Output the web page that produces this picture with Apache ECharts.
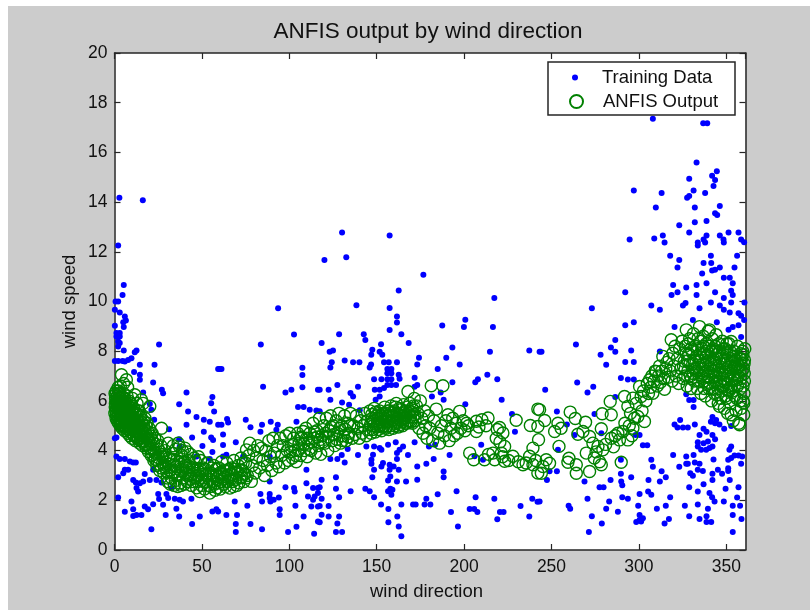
<!DOCTYPE html>
<html>
<head>
<meta charset="utf-8">
<title>ANFIS output by wind direction</title>
<script src="https://cdn.jsdelivr.net/npm/echarts@6/dist/echarts.min.js"></script>
<style>
  html, body { margin: 0; padding: 0; background: #fff; }
  #chart { width: 810px; height: 610px; }
</style>
</head>
<body>
<div id="chart"></div>
<script>
// [wind direction, wind speed], one list per stretch of the x axis
const trainingLow = [
  [0.6,10.0],[2.1,10.0],[0.2,9.67],[3.0,9.56],[5.9,9.4],[6.5,9.24],[5.0,9.16],[5.3,8.97],[0.2,9.02],[1.1,8.73],[3.0,8.73],[1.1,8.59],[3.0,8.59],[2.1,8.39],[3.0,8.33],[2.1,8.19],[5.3,8.03],[25.5,8.27],[93.6,9.73],[102.7,8.67],[83.7,8.27],[12.6,8.03],[11.6,7.96],[9.7,7.72],[7.8,7.65],[5.9,7.59],[0.2,7.61],[2.1,7.61],[4.6,7.61],[14.5,7.45],[22.9,7.45],[11.2,7.16],[14.5,7.05],[14.5,6.85],[22.1,6.74],[59.3,7.28],[60.2,7.28],[61.2,7.28],[107.5,7.33],[107.5,7.04],[107.5,6.55],[85.0,6.57],[27.1,6.45],[27.8,6.31],[41.2,6.34],[16.4,6.34],[97.8,6.34],[101.2,6.45],[116.4,6.45],[56.0,6.16],[55.3,5.91],[37.0,5.87],[57.0,5.57],[42.1,5.57],[105.0,5.75],[108.2,5.75],[111.7,5.64],[115.5,5.61],[20.2,5.88],[21.1,5.64],[46.9,5.35],[51.1,5.24],[54.5,5.16],[41.2,5.04],[59.3,5.04],[61.2,5.04],[64.4,5.27],[65.0,5.13],[75.1,5.24],[84.4,5.04],[89.4,5.16],[93.4,5.04],[77.8,4.94],[104.1,5.16],[22.7,5.24],[31.2,4.86],[51.1,4.76],[83.5,4.76],[92.6,4.84],[44.4,4.53],[55.3,4.53],[56.4,4.43],[62.1,4.65],[37.0,4.46],[1.1,4.53],[0.2,4.5],[62.1,4.23],[69.4,4.34],[50.3,4.19],[37.3,4.17],[56.0,3.94],[46.9,3.76],[54.5,3.66],[64.0,3.83],[62.1,3.76],[73.6,3.76],[88.8,3.76],[109.8,3.23],[1.1,3.76],[3.0,3.66],[5.9,3.66],[8.8,3.56],[10.7,3.52],[12.2,3.52],[5.9,3.23],[5.0,3.09],[7.8,3.23],[17.3,3.06],[2.1,2.93],[22.1,3.23],[10.7,2.82],[12.2,2.72],[16.4,2.76],[14.5,2.69],[12.6,2.49],[13.5,2.35],[20.2,2.82],[24.0,2.82],[26.9,2.72],[32.6,2.49],[109.8,2.69],[113.6,2.49],[116.4,2.49],[88.8,2.76],[97.8,2.53],[102.7,2.49],[103.1,2.35],[110.7,2.15],[114.5,2.15],[116.4,2.29],[25.0,2.25],[25.5,2.05],[29.7,2.25],[30.7,2.09],[34.5,2.06],[37.3,2.02],[39.2,1.95],[44.0,2.06],[2.1,2.11],[9.7,1.95],[27.8,1.82],[35.4,1.66],[17.3,1.75],[19.2,1.64],[22.1,1.84],[10.7,1.64],[5.9,1.54],[10.7,1.37],[12.6,1.41],[15.4,1.41],[29.3,1.41],[37.0,1.35],[48.8,1.35],[56.0,1.55],[58.3,1.64],[59.3,1.55],[64.0,1.41],[68.8,1.95],[76.0,1.78],[70.1,1.41],[83.5,2.25],[84.4,1.95],[88.8,2.25],[89.2,1.95],[91.1,2.02],[94.0,2.11],[94.5,1.64],[94.5,1.41],[103.5,1.78],[108.2,1.35],[112.6,1.75],[113.6,2.02],[116.4,1.75],[116.4,1.15],[69.4,1.05],[77.8,1.05],[69.4,0.72],[84.4,0.84],[99.3,0.72],[104.1,0.94],[114.2,0.65],[21.1,0.84],[44.4,1.05],[88.8,2.09],
  [2.8,14.18],[16.2,14.07],[2.1,12.25],[5.3,10.66],[4.6,10.26]
];
const trainingMid = [
  [130.2,12.78],[157.4,12.66],[120.1,11.67],[132.6,11.78],[176.7,11.08],[162.6,10.44],[217.3,10.14],[138.4,9.85],[157.4,9.74],[161.6,9.4],[161.6,9.15],[157.4,8.85],[187.5,9.03],[200.7,9.27],[199.9,8.97],[216.5,8.97],[128.5,8.68],[142.6,8.68],[143.5,8.45],[164.1,8.68],[118.5,8.33],[168.3,8.33],[152.5,8.28],[147.5,8.06],[123.1,7.98],[125.0,8.03],[151.7,7.98],[153.2,7.86],[146.9,7.86],[193.3,8.15],[189.8,7.74],[174.2,7.74],[214.8,7.98],[237.3,8.03],[243.2,7.98],[124.3,7.56],[131.7,7.63],[136.5,7.56],[140.1,7.56],[154.2,7.56],[156.9,7.56],[161.6,7.56],[173.2,7.46],[197.5,7.46],[146.8,7.46],[146.0,7.34],[123.5,7.34],[184.9,7.28],[156.1,7.28],[158.4,7.28],[156.1,7.11],[158.4,7.11],[162.6,7.05],[213.3,7.05],[171.7,6.93],[163.1,6.89],[148.5,6.87],[152.7,6.87],[156.1,6.87],[158.4,6.87],[219.0,6.87],[207.9,6.87],[206.4,6.75],[193.3,6.75],[127.5,6.64],[139.3,6.57],[173.2,6.64],[171.7,6.57],[161.1,6.64],[156.1,6.64],[158.4,6.64],[154.2,6.52],[148.9,6.45],[151.7,6.45],[122.5,6.45],[117.4,6.45],[135.0,6.32],[136.5,6.18],[149.4,6.05],[151.7,6.18],[123.5,6.05],[130.2,5.94],[134.2,5.85],[188.3,6.05],[181.6,6.18],[186.6,6.34],[221.5,6.05],[200.7,5.87],[140.3,5.62],[227.4,5.47],[229.1,4.76],[117.4,5.58],
  [171.7,4.34],[160.9,4.34],[144.1,4.17],[148.5,4.17],[151.7,4.1],[156.5,4.24],[179.9,4.17],[183.4,4.24],[133.4,4.06],[165.1,4.17],[163.1,4.03],[161.6,3.9],[147.9,3.83],[152.7,4.03],[139.3,3.82],[167.9,3.82],[191.7,3.82],[209.8,4.24],[206.0,3.77],[210.8,3.63],[127.5,3.66],[123.5,3.66],[130.0,3.82],[131.7,3.52],[147.0,3.63],[161.6,3.66],[182.6,3.66],[178.4,3.47],[173.2,3.36],[147.0,3.47],[153.6,3.5],[152.7,3.36],[157.4,3.43],[157.4,3.23],[159.7,3.36],[162.6,3.23],[148.5,3.23],[188.3,3.16],[188.3,2.93],[147.5,2.93],[126.7,2.93],[157.8,2.96],[156.5,2.8],[161.6,2.76],[166.8,2.76],[173.2,2.83],[118.5,2.83],[117.4,2.53],[126.7,2.46],[135.1,2.36],[143.5,2.46],[146.0,2.36],[157.8,2.46],[156.5,2.36],[159.0,2.42],[158.4,2.22],[184.9,2.24],[195.7,2.36],[128.5,2.12],[148.5,2.12],[178.4,2.06],[206.6,2.12],[217.3,2.06],[239.0,2.06],[242.0,1.94],[232.3,1.77],[118.5,2.06],[117.4,1.77],[122.5,1.77],[152.5,1.83],[164.1,1.83],[170.8,1.83],[172.3,1.83],[177.4,1.83],[180.7,1.83],[156.7,1.65],[203.2,1.65],[205.8,1.65],[207.6,1.53],[192.5,1.53],[220.5,1.53],[222.6,1.53],[118.5,1.42],[122.5,1.35],[128.5,1.35],[161.8,1.35],[237.3,1.35],[219.0,1.24],[117.4,1.12],[127.5,1.07],[156.7,1.12],[162.6,0.95],[196.5,0.95],[126.7,0.72],[130.2,0.72],[164.1,0.55]
];
const trainingHigh = [
  [308,17.35],[336.8,17.17],[339.1,17.17],[333,15.59],[344.6,15.24],[328.8,14.94],[341.9,15.06],[343.6,14.89],[342.7,14.65],[297.1,14.47],[331.3,14.47],[313,14.37],[337.9,14.37],[328.8,14.25],[327.6,14.18],[346.3,13.84],[309.7,13.78],[332,13.78],[343.6,13.55],[344.8,13.48],[323.1,13.07],[332,13.19],[338.7,13.24],[328.8,12.78],[351.3,12.78],[357,12.78],[346.3,12.66],[338.7,12.66],[313.7,12.66],[294.7,12.49],[308.8,12.54],[314.7,12.37],[337,12.49],[333.7,12.37],[333.7,12.25],[337.9,12.37],[348.4,12.49],[348.6,12.37],[358.5,12.49],[360.2,12.38],[317.9,11.84],[341.2,11.84],[356.2,11.84],[323.1,11.67],[337,11.55],[341.4,11.55],[322.1,11.37],[346.3,11.37],[354.7,11.37],[341.9,11.25],[343.6,11.28],[336.2,11.13],[348.6,10.96],[352,10.96],[353.7,10.73],[319.6,10.66],[327.1,10.56],[333,10.66],[338.7,10.73],[292.2,10.37],[318.7,10.26],[322.1,10.37],[333,10.26],[343.6,10.37],[352.8,10.43],[353.7,10.26],[348.6,10.14],
  [307.1,9.84],[312,9.67],[325.2,9.84],[326.7,9.94],[334.7,9.73],[341.2,9.96],[346.3,9.84],[348.6,9.67],[352,9.56],[352.8,9.96],[360.4,9.96],[273.1,9.73],[357,9.53],[358.5,9.43],[360.2,9.26],[297.1,9.16],[292.2,9.04],[320.4,8.97],[330.9,9.26],[344.6,9.16],[357,9.04],[353.7,8.97],[351.3,8.86],[358.5,8.57],[264,8.27],[286.5,8.45],[284,8.15],[286.5,7.98],[295.6,8.03],[244.3,7.98],[278.1,7.86],[281.3,7.45],[292.2,7.57],[297.1,7.57],[312,7.99],[289.7,6.92],[293.7,6.86],[297.1,6.86],[264.7,6.74],[273.9,6.57],[270.6,6.34],[246.4,6.45],[286.5,6.16],[327.1,6.27],[328.8,6.04],[331.3,6.04],[331.3,5.75],[274.6,5.47],[253.1,5.57],[258.8,5.05],[323.6,5.23],[320.4,5.05],[322.1,4.93],[325.2,4.93],[328,4.93],[332,5.05],[342.1,5.35],[341.2,5.16],[344.2,5.23],[346.1,5.05],[343.6,5.1],[348.8,4.88],[352.8,4.99],[337,4.88],[334.7,4.63],[338.7,4.76],[342.1,4.63],[343.6,4.46],[263.2,4.63],[278.5,4.7],[298.1,4.63],[300.4,4.63],[333.7,4.34],[337,4.3],[339.5,4.37],[342.1,4.17],[333.7,4.17],[335.6,4.03],[338.5,4.03],[340.4,4.1],[302.3,4.22],[304.8,4.22],[352.8,4.17],[351.8,4.03],[354.7,3.8],[357,3.8],[359.1,3.76],[319.6,3.82],[327.1,3.76],[331.3,3.82],[342.7,3.64],[352.8,3.7],[351.1,3.63],[307.1,3.63],[308,3.35],[289.7,3.63],[253.7,4.03],[327.1,3.47],[328,3.47],[332,3.52],[334.7,3.47],[323.1,3.35],[333.7,3.23],[336.6,3.18],[351.1,3.29],[351.1,3.18],[358.5,3.47],[345.2,3.23],[313,3.17],[315.4,2.93],[312,2.76],[305.5,2.82],[289.7,3.07],[295.6,2.93],[283.8,2.82],[289.9,2.76],[290.5,2.61],[268.9,2.76],[247.4,2.82],[253.1,3.17],[248.9,3.17],[329.4,3.09],[330.9,2.99],[342.1,3.07],[342.1,2.82],[347.6,3.07],[352,2.82],[328.8,2.53],[337,2.65],[349.6,2.46],[357,2.53],[277.5,2.53],[279.8,2.53],[333.7,2.35],[340.4,2.29],[341.9,2.12],[343.3,1.95],[305.3,2.35],[307.1,2.22],[300.4,2.25],[317.9,2.12],[270.6,2.06],[290.5,2.12],[293.7,2.06],[283,1.95],[348.6,1.95],[356.2,2.11],[299.6,1.78],[315.4,1.78],[326.3,1.78],[333.7,1.83],[353.7,1.78],[357.9,1.78],[243.2,1.95],[259.8,1.78],[260.7,1.66],[281.3,1.66],[310.3,1.66],[339.5,1.66],[288,1.54],[273.1,1.36],[300.4,1.41],[302.3,1.28],[300.4,1.21],[298.5,1.13],[301.3,1.15],[328.8,1.36],[317.2,1.25],[314.7,1.07],[334.7,1.25],[338.7,1.36],[338.7,1.13],[341.4,1.13],[353.7,1.41],[358.7,1.25],[278.8,1.07],[271.4,0.72],[353.7,0.72]
];

const anfisFalling = [
  [0.3,6.3],[0.5,5.9],[0.6,6.1],[0.8,5.6],[0.9,5.3],[1.0,6.4],[1.2,6.0],[1.4,5.7],[1.5,5.2],[1.7,6.2],[1.9,5.9],[2.1,5.5],[2.3,6.4],[2.4,5.1],[2.6,6.0],[2.8,5.7],[3.0,6.3],[3.1,5.4],[3.3,5.0],[3.5,6.1],[3.7,5.8],[3.9,5.5],[4.0,6.2],[4.2,5.2],[4.4,4.9],[4.6,6.0],[4.8,5.6],[5.0,5.3],[5.2,6.3],[5.4,5.0],[5.6,5.8],[5.8,4.8],[6.0,6.1],[6.2,5.5],[6.4,5.2],[6.6,5.9],[6.8,4.9],[7.0,5.6],[7.2,6.2],[7.4,5.3],[7.6,4.7],[7.8,5.8],[8.0,5.1],[8.3,6.0],[8.5,5.5],[8.7,4.6],[9.0,5.2],[9.2,5.9],[9.5,4.9],[9.8,5.6],[10.0,4.5],[10.3,6.1],[10.5,5.3],[10.8,5.0],[11.0,5.7],[11.3,4.6],[11.6,6.25],[11.8,5.2],[12.0,4.4],[12.3,5.5],[12.6,4.9],[12.9,5.9],[13.2,4.5],[13.5,5.2],[13.8,4.8],[14.1,5.6],[14.4,4.3],[14.7,5.0],[15.0,5.4],[15.4,6.05],[15.7,4.6],[16.0,4.2],[16.4,5.9],[16.7,5.0],[17.0,4.4],[17.4,5.3],[17.8,4.7],[18.2,4.1],[18.6,5.1],[19.0,4.5],[19.4,3.95],[19.8,4.9],[20.2,5.78],[20.6,4.3],[21.0,3.8],[21.5,4.7],[22.0,4.1],[22.5,3.6],[23.0,4.5],[23.6,3.9],[24.2,3.4],[24.8,4.4],[25.4,3.7],[25.9,3.2],[26.5,4.2],[26.9,4.9],[27.5,3.5],[28.2,3.1],[28.8,4.0],[29.5,3.4],[30.2,2.9],[30.7,4.3],
  [4.0,7.05],[6.8,6.85],[5.2,6.7],[3.4,6.6],[7.5,6.55],[2.2,6.55]
];
const anfisFallingFill = [
  [0.2,5.5],[0.4,5.75],[0.7,6.25],[1.1,5.45],[1.3,5.85],[1.6,6.05],[1.8,5.35],[2.2,5.75],[2.5,5.25],[2.7,6.15],[2.9,5.55],[3.2,5.85],[3.4,5.25],[3.6,5.65],[3.8,5.05],[4.1,5.9],[4.3,5.45],[4.5,5.15],[4.7,5.75],[4.9,6.15],[5.1,4.95],[5.3,5.55],[5.5,5.9],[5.7,5.2],[5.9,5.65],[6.1,5.0],[6.3,5.8],[6.5,5.35],[6.7,5.05],[6.9,5.7],[7.1,5.45],[7.3,5.0],[7.5,5.85],[7.7,5.25],[7.9,4.95],[8.1,5.65],[8.4,4.85],[8.6,5.3],[8.8,5.75],[9.1,4.75],[9.3,5.45],[9.6,5.05],[9.9,5.35],[10.1,4.85],[10.4,5.6],[10.7,4.65],[10.9,5.2],[11.2,4.9],[11.5,5.45],[11.9,4.75],[12.2,5.05],[12.5,4.55],[12.8,5.25],[13.1,4.95],[13.4,5.6],[13.7,4.45],[14.0,5.1],[14.3,4.65],[14.6,5.35],[14.9,4.5],[15.2,4.85],[15.5,5.15],[15.9,4.35],[16.2,4.75],[16.6,5.2],[16.9,4.6],[17.2,4.85],[17.6,4.25],[18.0,5.0],[18.4,4.5],[18.8,4.25],[19.2,4.75],[19.6,4.4],[20.0,4.1],[20.4,4.6],[20.8,4.05],[21.3,4.45],[21.8,3.85],[22.3,4.3],[22.8,3.95],[23.3,3.65],[23.9,4.25],[24.5,3.6],[25.1,4.05],[25.7,3.45],[26.2,3.85],[26.8,3.3],[27.2,3.75],[27.9,3.85],[28.5,3.35],[29.2,3.75],[29.9,3.15]
];
const anfisTrough = [
  [31.0,3.7],[31.8,3.2],[32.6,2.9],[33.3,3.9],[34.0,3.4],[34.8,2.8],[35.5,3.6],[36.4,4.3],[37.3,2.7],[37.8,3.2],[38.5,3.8],[39.3,2.9],[40.2,4.1],[40.8,3.4],[41.5,2.75],[42.3,3.6],[43.1,3.0],[44.0,2.6],[44.8,3.3],[45.6,3.7],[46.3,2.9],[47.0,2.5],[47.8,3.2],[48.8,2.35],[49.3,3.6],[50.0,2.8],[50.8,3.3],[51.5,2.45],[52.3,3.0],[53.0,3.5],[53.8,2.6],[54.5,2.29],[55.2,3.1],[56.0,2.75],[56.8,3.4],[57.5,2.4],[58.3,3.0],[59.0,2.7],[59.8,3.3],[60.5,2.45],[61.3,3.55],[62.0,2.85],[62.8,3.2],[63.5,2.55],[64.3,3.5],[65.0,3.0],[66.0,2.49],[66.8,3.3],[67.5,2.75],[68.3,3.6],[69.0,3.1],[70.0,2.6],[70.8,3.4],[71.5,2.9],[72.4,3.7],[73.2,3.2],[74.0,2.75],[75.5,4.03],[75.0,3.5],[76.0,3.0],
  [31.4,3.45],[32.2,3.65],[33.0,3.1],[33.8,3.65],[34.4,3.15],[35.2,3.35],[36.0,3.0],[36.8,3.55],[37.5,3.0],[38.2,3.45],[39.0,3.25],[39.8,3.55],[40.5,3.1],[41.2,3.3],[42.0,3.05],[42.8,3.35],[43.6,2.85],[44.4,3.05],[45.2,2.75],[46.0,3.2],[46.8,3.0],[47.5,2.75],[48.3,3.0],[49.0,3.25],[49.8,2.6],[50.4,3.05],[51.2,2.75],[52.0,3.25],[52.7,2.75],[53.4,3.1],[54.2,2.85],[55.0,2.55],[55.7,3.3],[56.4,3.0],[57.2,2.65],[58.0,3.25],[58.8,2.5],[59.5,2.95],[60.2,3.1],[61.0,2.75],[61.7,3.05],[62.5,2.65],[63.2,2.95],[64.0,3.2],[64.7,2.75],[65.5,3.25],[66.4,2.85],[67.2,3.05],[68.0,2.55],[68.7,3.25],[69.5,2.85],[70.4,3.15],[71.2,2.7],[72.0,3.2],[72.8,2.95],[73.6,3.5],[74.5,3.05],[75.3,2.9],
  [33.6,4.2],[35.0,4.05],[37.2,4.15],[38.8,4.0],[41.8,3.95],[43.4,3.85],[46.4,3.55],[48.0,3.75],[30.5,2.75],[32.0,2.65],[34.2,2.6],[36.2,2.55],[38.0,2.6],[40.0,2.65]
];
const anfisRising = [
  [76.8,3.8],[77.4,4.3],[78.3,2.76],[78.8,3.4],[79.6,4.0],[80.4,3.1],[81.2,3.7],[82.0,4.2],[83.0,3.3],[84.0,4.1],[85.0,3.6],[85.8,3.0],[86.6,4.0],[87.5,3.4],[88.3,4.4],[89.2,3.75],[90.0,3.2],[90.7,4.5],[91.5,3.9],[92.4,3.5],[93.2,4.2],[94.0,3.35],[94.8,4.5],[95.6,3.8],[96.5,4.2],[97.3,3.5],[98.0,4.6],[98.8,4.0],[99.5,3.6],[100.2,4.7],[101.0,4.2],[101.8,3.7],[102.5,4.5],[103.3,4.0],[104.0,3.55],[104.8,4.7],[105.6,4.3],[106.4,3.8],[107.2,4.5],[107.9,4.77],[108.7,4.0],[109.5,4.9],[110.2,3.75],[111.0,4.3],[111.8,4.7],[112.5,4.0],[113.6,5.1],[114.2,4.5],[115.0,3.9],[115.8,4.8],[116.5,4.2],[117.3,5.3],[118.0,3.85],[118.8,4.6],[119.6,5.0],[120.4,4.3],[121.2,5.3],[122.0,4.0],[122.8,4.8],[123.6,5.4],[124.4,4.4],[125.2,5.0],[126.0,4.2],[126.8,5.2],[127.6,4.7],[128.4,5.5],[129.2,4.3],[130.0,5.0],[130.8,4.6],[131.6,5.4],[132.5,4.4],[133.3,5.1],[134.1,4.7],[135.0,5.5],
  [100.6,3.95],[102.1,4.25],[103.7,3.8],[105.2,4.0],[106.8,4.55],[108.3,4.25],[109.9,4.5],[111.4,4.05],[113.0,4.35],[114.6,4.75],[116.1,4.55],[117.7,4.45],[119.2,4.35],[120.8,4.7],[122.4,4.55],[123.9,4.95],[125.6,4.65],[127.2,4.45],[128.8,4.9],[130.4,4.4],[132.0,4.85],[133.6,4.55],[134.6,5.0]
];
const anfisPlateau = [
  [136.0,4.5],[136.8,5.0],[137.6,4.65],[138.4,5.4],[139.2,4.9],[140.0,4.5],[140.8,5.2],[141.6,4.7],[142.4,5.0],[143.2,5.5],[144.0,4.6],[144.8,5.2],[145.6,4.85],[146.2,5.6],[146.8,4.7],[147.4,5.3],[148.0,5.0],[148.6,5.7],[149.2,4.75],[149.8,5.4],[150.4,5.1],[151.0,4.85],[151.6,5.6],[152.2,5.25],[152.8,4.8],[153.4,5.5],[154.0,5.0],[154.6,5.75],[155.2,4.9],[155.8,5.35],[156.4,5.6],[157.0,4.85],[157.6,5.15],[158.2,5.8],[158.8,5.4],[159.4,4.9],[160.0,5.6],[160.6,5.1],[161.2,5.9],[161.8,5.3],[162.4,4.95],[163.0,5.7],[163.6,5.2],[164.2,5.5],[164.8,5.0],[165.4,5.85],[166.0,5.3],[166.6,5.6],[167.2,5.1],[167.9,6.38],[168.4,5.5],[169.0,5.9],[169.6,5.15],[170.2,5.7],[170.8,5.35],[171.5,6.1],[172.0,5.2],[172.8,5.8],[173.5,5.5],[174.2,4.9],[175.0,6.0],[175.8,5.3],[176.5,4.7],[177.3,5.6],[178.0,5.0],[178.8,4.5],[179.6,5.4],[180.4,4.9],[181.2,6.61],[182.0,4.4],[182.8,5.2],[184.1,5.67],[185.0,4.7],[186.0,4.3],[187.0,5.0],[187.9,6.61],[188.8,4.6],[189.6,5.2],[190.8,5.44],[191.5,4.4],[192.5,4.9],[193.5,5.3],[194.3,4.6],[195.3,5.1],[196.2,4.7],[197.5,5.58],[198.2,4.9],[199.5,5.2],[200.5,4.8],[201.5,5.1],[202.5,5.0],
  [146.5,5.05],[147.2,5.45],[147.8,4.85],[148.3,5.2],[149.5,5.55],[150.1,4.95],[150.7,5.3],[151.3,5.5],[151.9,5.0],[152.5,5.4],[153.1,5.15],[153.7,4.95],[154.3,5.3],[154.9,5.5],[155.5,5.15],[156.1,5.0],[156.7,5.4],[157.3,5.6],[157.9,5.0],[158.5,5.55],[159.1,5.2],[159.7,5.4],[160.3,5.0],[160.9,5.75],[161.5,5.5],[162.1,5.15],[162.7,5.45],[163.3,5.05],[163.9,5.65],[164.5,5.3],[165.1,5.15],[165.7,5.55],[166.3,5.1],[166.9,5.4],[167.5,5.75],[168.1,5.2],[168.7,5.6],[169.3,5.35],[169.9,5.55],[170.5,5.1],[171.1,5.8],[171.8,5.45]
];
const anfisScatter = [
  [203.2,3.9],[205.5,3.63],[207,5.18],[207,4.77],[208.5,4.95],[210.2,5.24],[211.7,3.63],[212.5,5.0],[213.7,5.31],[214,3.85],[216.5,3.9],[217.5,3.63],[218.4,4.5],[219,4.85],[220.3,4.93],[221.3,3.9],[222.2,4.71],[223.2,4.17],[223.2,3.57],[220.5,4.35],[222,3.75],[225.5,3.6],[227.9,3.77],[229.8,5.22],[231,3.55],[233.7,3.43],[235.5,3.5],[237.5,3.77],[237.9,5.01],[239.4,4.1],[239.4,3.43],[241,3.6],[242.2,5.67],[242.2,4.97],[242.2,3.1],[242.6,4.44],[243.2,5.64],[244.2,3.09],[245.1,3.36],[246.1,5.21],[247,3.63],[248.9,3.49],[251.8,4.77],[253.7,5.1],[254.3,4.17],[255.5,4.9],[260.7,5.55],[260,3.69],[259.4,3.53],[263.6,5.29],[264.2,3.43],[264.2,3.09],[265.1,4.66],[268,4.77],[269.5,5.14],[269.9,3.9],[271.8,4.57],[271.8,3.16],[273.7,4.3],[274.5,3.7],[275.5,3.95],[276.6,4.17],[277.5,3.55],[278.5,4.88],[278.5,3.43],[279,5.48],[279.4,4.03],[281,4.25],[283.6,5.98],[284.2,5.44],[284.2,4.5],[285.5,4.15],[286.5,4.6],[288,4.7],[288.9,4.43],[289.9,3.53],[290.9,4.77],[291.8,6.18],[292,5.1],[293.7,5.78],[293.7,4.43]
];
const anfisClimb = [
  [294.5,5.0],[295.2,5.5],[296,4.6],[296.6,6.11],[296.6,4.9],[297.5,5.3],[298.4,5.9],[299.4,5.37],[300.4,6.58],[301.3,6.18],[301.8,5.6],[302.6,6.4],[303.2,5.17],[304,6.0],[304.8,6.7],[305.5,6.3],[306.1,6.85],[306.8,6.55],[307.4,7.0],[308,6.31],[308.6,6.8],[309.3,7.2],[309.9,7.18],[310.5,6.6],[311.2,7.0],[311.8,7.4],[312.4,6.75],[313,7.2],[313.7,7.79],[314.3,6.9],[314.7,6.47],[315.4,7.3],[316,7.55],[316.7,6.95],[317.3,7.7],[318,7.2],[318.5,8.46],[319,6.8],[319.4,7.92],[320,7.4],[320.7,8.2],[321.3,7.0],[322,7.7],[322.7,6.7],[323.3,8.1],[324,7.3],[324.7,8.4],[325.3,6.9]
];
const anfisPeak = [
  [326,7.6],[326.5,8.2],[327.1,8.86],[327.6,6.6],[328,7.2],[328.5,7.9],[329,8.5],[329.4,7.0],[329.9,6.5],[330.3,8.0],[330.8,7.5],[331.2,8.7],[331.7,6.8],[332.1,8.2],[332.5,7.3],[333,7.8],[333.4,6.5],[333.8,8.5],[334.2,7.05],[334.7,8.99],[335.1,7.6],[335.5,6.3],[336,8.1],[336.4,7.3],[336.8,8.6],[337.2,6.8],[337.6,7.9],[338,6.2],[338.5,8.3],[338.9,7.0],[339.3,7.6],[339.7,8.8],[340.1,6.5],[340.4,8.86],[340.8,7.3],[341.2,8.0],[341.6,6.0],[342,8.5],[342.4,7.0],[342.8,7.7],[343.2,6.3],[343.6,8.2],[344,7.4],[344.2,8.66],[344.6,6.7],[345,7.9],[345.4,5.9],[345.8,8.3],[346.1,5.78],[346.5,7.1],[346.9,7.7],[347.3,6.4],[347.7,8.4],[348.1,6.9],[348.5,7.5],[348.9,5.7],[349.3,8.1],[349.7,6.2],[350,7.3],[350.4,7.9],[350.8,5.5],[351.2,6.7],[351.6,8.3],[352,7.1],[352.4,5.9],[352.8,8.39],[352.8,5.44],[353.2,7.6],[353.6,6.4],[354,5.2],[354.4,8.0],[354.8,6.9],[355.2,7.4],[355.6,5.6],[356,6.1],[356.4,8.2],[356.8,7.0],[357.2,5.1],[357.6,5.04],[357.9,7.7],[358.2,6.5],[358.6,5.7],[359,7.2],[359.3,8.0],[359.5,7.86],[359.7,6.0],[360,5.44],[360,5.91],[360.2,7.5],[360.4,6.8],[360.6,8.1],
  [326.4,7.0],[327,7.9],[328.2,8.3],[329.2,7.5],[330,6.9],[331,7.1],[331.9,7.6],[333.2,7.2],[334,6.8],[335,7.9],[335.8,7.0],[336.6,7.5],[337.4,6.5],[338.2,7.2],[339,8.0],[339.8,7.0],[340.6,6.7],[341.4,7.5],[342.2,6.5],[343,7.2],[343.8,6.8],[344.4,7.7],[345.2,6.5],[346,7.4],[346.8,6.1],[347.6,7.1],[348.4,6.6],[349.2,7.5],[350,6.1],[350.8,7.0],[351.6,6.4],[352.4,7.7],[353.2,6.8],[354,7.3],[354.8,6.2],[355.6,7.8],[356.4,6.6],[357.2,7.4],[358,6.0],[358.8,7.7],[359.6,6.6],[360.3,7.1],
  [325.5,7.4],[327.8,7.6],[329.8,8.1],[331.5,7.3],[333.6,8.1],[335.3,8.4],[337,8.2],[338.7,7.8],[340.2,8.2],[342.5,8.1],[344.3,8.0],[346.3,8.0],[348.3,8.1],[350.3,8.3],[352.2,8.0],[354.2,7.8],[356.2,7.5],[358.4,7.9],
  [334.4,7.35],[335.6,7.75],[336.9,7.1],[338.1,7.45],[339.4,6.75],[340.5,7.65],[341.8,7.2],[343.1,7.55],[344.1,7.0],[345.4,7.25],[346.6,6.8],[347.9,7.8],[349.0,6.75],[350.2,7.65],[351.4,7.35],[352.6,6.55],[353.8,7.05],[355.0,7.65],[356.1,6.85],[357.4,7.15],[358.6,7.45],[359.8,7.3],[360.4,7.65],[345.1,6.25],[347.1,6.6],[349.1,7.15],[350.9,6.45],[352.9,7.4],[354.6,6.6],[356.6,7.3],[358.4,6.9],[360.1,6.3]
];

const windDirectionTicks = 50;
const windSpeedTicks = 2;
const axisColor = "#262626";
const textColor = "#111";
const fontFamily = "'Liberation Sans', Arial, sans-serif";

const trainingData = trainingLow.concat(trainingMid, trainingHigh);
const anfisOutput = anfisFalling.concat(anfisFallingFill, anfisTrough, anfisRising, anfisPlateau, anfisScatter, anfisClimb, anfisPeak);

const axisLine = { onZero: false, lineStyle: { color: axisColor, width: 1.5 } };
const axisTick = { inside: true, length: 6, lineStyle: { color: axisColor, width: 1.2 } };

const myChart = echarts.init(document.getElementById("chart"), null, { renderer: "canvas" });

myChart.setOption({
  animation: false,
  backgroundColor: "#fff",
  textStyle: { fontFamily: fontFamily },
  title: {
    text: "ANFIS output by wind direction",
    left: 423,
    top: 15,
    textAlign: "center",
    textStyle: { fontFamily: fontFamily, fontSize: 22.5, fontWeight: "normal", color: textColor }
  },
  graphic: [
    { type: "rect", z: -10, silent: true, shape: { x: 8, y: 6, width: 802, height: 604 }, style: { fill: "#cccccc" } },
    { type: "rect", z: 50, silent: true, shape: { x: 548, y: 62, width: 187, height: 53 }, style: { fill: "#fff", stroke: axisColor, lineWidth: 1.5 } }
  ],
  grid: {
    left: 114.5,
    top: 53,
    width: 631,
    height: 497,
    show: true,
    backgroundColor: "#fff",
    borderWidth: 0
  },
  legend: [
    {
      z: 60, left: 567, top: 63, itemWidth: 44, itemHeight: 6,
      data: ["Training Data"],
      selectedMode: false,
      textStyle: { fontFamily: fontFamily, fontSize: 18.5, color: textColor }
    },
    {
      z: 60, left: 564, top: 87, itemWidth: 43, itemHeight: 13,
      data: ["ANFIS Output"],
      selectedMode: false,
      textStyle: { fontFamily: fontFamily, fontSize: 18.5, color: textColor }
    }
  ],
  xAxis: [
    {
      type: "value", min: 0, max: 361, interval: windDirectionTicks,
      name: "wind direction", nameLocation: "middle", nameGap: 32,
      nameTextStyle: { fontFamily: fontFamily, fontSize: 18.5, color: textColor, padding: [0, 7, 0, 0] },
      splitLine: { show: false }, axisLine: axisLine, axisTick: axisTick,
      axisLabel: { showMaxLabel: false, margin: 8, fontFamily: fontFamily, fontSize: 17.5, color: textColor }
    },
    {
      type: "value", position: "top", min: 0, max: 361, interval: windDirectionTicks,
      splitLine: { show: false }, axisLine: axisLine, axisTick: axisTick, axisLabel: { show: false }
    }
  ],
  yAxis: [
    {
      type: "value", min: 0, max: 20, interval: windSpeedTicks,
      name: "wind speed", nameLocation: "middle", nameGap: 35, nameMoveOverlap: false,
      nameTextStyle: { fontFamily: fontFamily, fontSize: 18.5, color: textColor },
      splitLine: { show: false }, axisLine: axisLine, axisTick: axisTick,
      axisLabel: { margin: 7, fontFamily: fontFamily, fontSize: 17.5, color: textColor }
    },
    {
      type: "value", position: "right", min: 0, max: 20, interval: windSpeedTicks,
      splitLine: { show: false }, axisLine: axisLine, axisTick: axisTick, axisLabel: { show: false }
    }
  ],
  series: [
    {
      name: "Training Data",
      type: "scatter",
      z: 2,
      clip: false,
      symbolSize: 6,
      itemStyle: { color: "#0000ff", opacity: 1 },
      data: trainingData
    },
    {
      name: "ANFIS Output",
      type: "scatter",
      z: 3,
      clip: false,
      symbol: "circle",
      symbolSize: 12,
      itemStyle: { color: "rgba(0,0,0,0)", borderColor: "#008000", borderWidth: 1.4, opacity: 1 },
      data: anfisOutput
    }
  ]
});
</script>
</body>
</html>
